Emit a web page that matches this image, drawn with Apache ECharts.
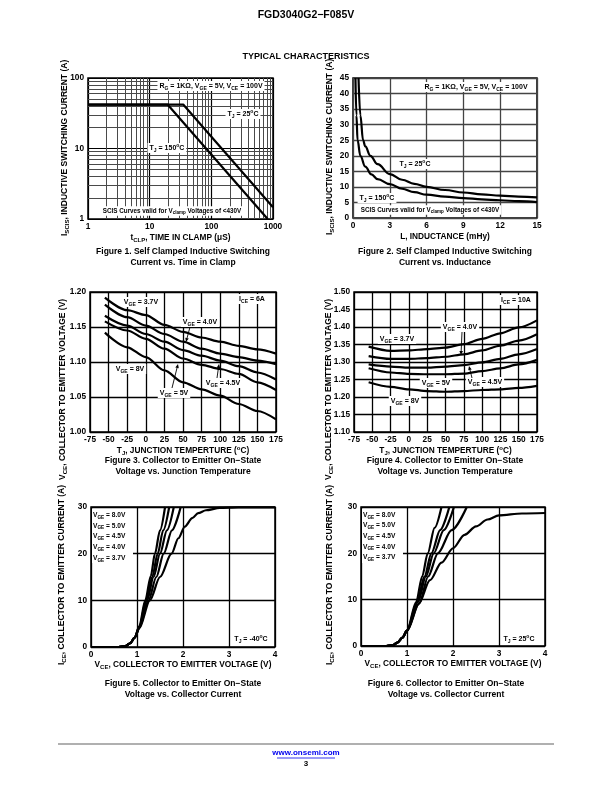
<!DOCTYPE html>
<html><head><meta charset="utf-8">
<script src="https://cdn.jsdelivr.net/npm/echarts@6/dist/echarts.min.js"></script>
<style>html,body{margin:0;padding:0;background:#fff}#c{width:612px;height:792px}</style>
</head><body><div id="c"></div>
<script>
// ---------- DATA ----------
// Figure 1: I_SCIS vs time in clamp (log-log)
const fig1TimeTj25 = [1, 35, 1000];
const fig1CurrTj25 = [42, 42, 1.47];
const fig1TimeTj150 = [1, 19.5, 820];
const fig1CurrTj150 = [42, 42, 1.0];
const fig1XTicks = [1, 10, 100, 1000];
const fig1YTicks = [1, 10, 100];

// Figure 2: I_SCIS vs inductance
const fig2LTj25 = [0.45, 0.6, 0.82, 1.0, 1.42, 2, 3, 4, 5, 6, 7.5, 9, 10.5, 12, 13.5, 15];
const fig2ITj25 = [45, 33, 25, 23, 20, 17.3, 14.1, 12.3, 11, 10, 9.0, 8.2, 7.6, 7.2, 6.9, 6.6];
const fig2LTj150 = [0.2, 0.28, 0.37, 0.6, 1, 1.5, 2, 3, 4, 5, 6, 7.5, 9, 10.5, 12, 13.5, 15];
const fig2ITj150 = [45, 33, 25, 20, 16.5, 14, 12.5, 10.9, 9.4, 8.3, 7.5, 6.9, 6.4, 6.0, 5.7, 5.4, 5.1];

// Figure 3: VCE vs TJ at ICE = 6A
const fig3Temp = [-55, -25, 0, 25, 50, 75, 100, 125, 150, 175];
const fig3Vge37 = [1.192, 1.174, 1.167, 1.153, 1.143, 1.135, 1.129, 1.123, 1.118, 1.112];
const fig3Vge40 = [1.182, 1.164, 1.152, 1.140, 1.129, 1.119, 1.112, 1.107, 1.102, 1.097];
const fig3Vge45 = [1.166, 1.152, 1.140, 1.129, 1.117, 1.109, 1.102, 1.094, 1.085, 1.075];
const fig3Vge50 = [1.158, 1.145, 1.133, 1.119, 1.105, 1.096, 1.090, 1.083, 1.071, 1.060];
const fig3Vge80 = [1.142, 1.121, 1.107, 1.088, 1.071, 1.061, 1.052, 1.040, 1.030, 1.018];

// Figure 4: VCE vs TJ at ICE = 10A
const fig4Temp = [-55, -25, 0, 25, 50, 75, 100, 125, 150, 175];
const fig4Vge37 = [1.344, 1.332, 1.333, 1.337, 1.341, 1.351, 1.366, 1.382, 1.399, 1.419];
const fig4Vge40 = [1.317, 1.309, 1.309, 1.311, 1.315, 1.322, 1.333, 1.347, 1.361, 1.379];
const fig4Vge45 = [1.293, 1.287, 1.284, 1.284, 1.287, 1.291, 1.299, 1.309, 1.322, 1.337];
const fig4Vge50 = [1.282, 1.270, 1.266, 1.265, 1.265, 1.267, 1.274, 1.282, 1.293, 1.306];
const fig4Vge80 = [1.242, 1.229, 1.222, 1.217, 1.215, 1.217, 1.220, 1.222, 1.226, 1.232];

// Figure 5: ICE vs VCE, TJ = -40C
const fig5V80 = [0, 0.6, 0.75, 0.85, 0.95, 1.05, 1.18, 1.3, 1.39, 1.5, 1.61];
const fig5I80 = [0, 0, 0.2, 0.8, 2, 4.5, 10, 15.2, 20, 25, 30];
const fig5V50 = [0, 0.6, 0.75, 0.85, 0.95, 1.05, 1.2, 1.33, 1.45, 1.57, 1.7];
const fig5I50 = [0, 0, 0.2, 0.8, 2, 4.3, 10, 15, 20, 25, 30];
const fig5V45 = [0, 0.6, 0.75, 0.85, 0.95, 1.05, 1.22, 1.36, 1.5, 1.65, 1.8];
const fig5I45 = [0, 0, 0.2, 0.8, 2, 4.2, 10, 15, 20, 25, 30];
const fig5V40 = [0, 0.6, 0.75, 0.85, 0.95, 1.05, 1.25, 1.42, 1.58, 1.76, 1.95];
const fig5I40 = [0, 0, 0.2, 0.8, 2, 4.1, 10, 15, 20, 25, 30];
const fig5V37 = [0, 0.6, 0.75, 0.85, 0.95, 1.05, 1.28, 1.5, 1.75, 1.9, 2.04, 2.2, 2.33, 2.5, 2.8, 3.2, 4.0];
const fig5I37 = [0, 0, 0.2, 0.8, 2, 4, 10, 15, 20, 23.3, 25.8, 27.6, 28.7, 29.3, 29.8, 29.9, 29.9];

// Figure 6: ICE vs VCE, TJ = 25C
const fig6V80 = [0, 0.55, 0.7, 0.8, 0.9, 1.0, 1.2, 1.33, 1.45, 1.6, 1.75];
const fig6I80 = [0, 0, 0.2, 0.8, 1.8, 3.3, 9.5, 15, 20, 25.5, 30];
const fig6V50 = [0, 0.55, 0.7, 0.8, 0.9, 1.0, 1.22, 1.38, 1.53, 1.72, 1.92];
const fig6I50 = [0, 0, 0.2, 0.8, 1.8, 3.3, 9.5, 15, 20, 25, 30];
const fig6V45 = [0, 0.55, 0.7, 0.8, 0.9, 1.0, 1.24, 1.41, 1.58, 1.8, 2.02];
const fig6I45 = [0, 0, 0.2, 0.8, 1.8, 3.3, 9.5, 15, 20, 25, 30];
const fig6V40 = [0, 0.55, 0.7, 0.8, 0.9, 1.0, 1.27, 1.46, 1.67, 1.97, 2.3];
const fig6I40 = [0, 0, 0.2, 0.8, 1.8, 3.3, 9.3, 15, 20, 25, 30];
const fig6V37 = [0, 0.55, 0.7, 0.8, 0.9, 1.0, 1.25, 1.5, 1.75, 2.0, 2.25, 2.5, 2.75, 3.0, 3.5, 4.0];
const fig6I37 = [0, 0, 0.2, 0.8, 1.8, 3.3, 9, 14.2, 18, 21.1, 24, 25.8, 27.3, 28.2, 28.6, 28.7];

const fig5LegendLabels = ['8.0V', '5.0V', '4.5V', '4.0V', '3.7V'];

// ---------- STYLE / BUILD ----------
const FONT = '"Liberation Sans", Arial, sans-serif';
function rich(base) {
  return {
    n: {fontSize: base, lineHeight: base + 3, fontWeight: 'bold', fontFamily: FONT, color: '#000', verticalAlign: 'middle'},
    s: {fontSize: base * 0.72, lineHeight: base * 0.6, fontWeight: 'bold', fontFamily: FONT, color: '#000', verticalAlign: 'bottom'},
    u: {fontSize: base * 0.72, lineHeight: base * 0.6, fontWeight: 'bold', fontFamily: FONT, color: '#000', verticalAlign: 'top'}
  };
}
const zip = (a, b) => a.map((v, i) => [v, b[i]]);

const grids = [
  {left: 88, top: 78, width: 185, height: 141},
  {left: 353, top: 78, width: 184, height: 140},
  {left: 90, top: 292, width: 186, height: 140},
  {left: 354, top: 292, width: 183, height: 140},
  {left: 91, top: 507, width: 184, height: 140},
  {left: 361, top: 507, width: 184, height: 139}
].map(g => Object.assign({show: true, borderColor: '#000', borderWidth: 1.5, backgroundColor: 'transparent'}, g));

function axisBase(gi, name, gap, lblFmt, gridColor, gridW) {
  return {
    gridIndex: gi, name: name, nameLocation: 'middle', nameGap: gap,
    nameTextStyle: {rich: rich(8.3), fontSize: 8.3, fontWeight: 'bold', fontFamily: FONT},
    axisLine: {show: false}, axisTick: {show: false},
    axisLabel: {fontSize: 8.3, fontWeight: 'bold', color: '#000', fontFamily: FONT, margin: 4, formatter: lblFmt},
    splitLine: {show: true, lineStyle: {color: gridColor || '#000', width: gridW || 1.3}}
  };
}
const intFmt = v => String(Math.round(v));
const f2 = v => v.toFixed(2);

const yNameScis = '{n|I}{s|SCIS}{n|, INDUCTIVE SWITCHING CURRENT (A)}';
const yNameVce = '{n|V}{s|CE}{n|, COLLECTOR TO EMITTER VOLTAGE (V)}';
const yNameIce = '{n|I}{s|CE}{n|, COLLECTOR TO EMITTER CURRENT (A)}';
const xNameTemp = '{n|T}{s|J}{n|, JUNCTION TEMPERTURE (}{u|o}{n|C)}';
const xNameVce = '{n|V}{s|CE}{n|, COLLECTOR TO EMITTER VOLTAGE (V)}';

const xAxes = [
  Object.assign(axisBase(0, '{n|t}{s|CLP}{n|, TIME IN CLAMP (μS)}', 13, intFmt, '#000', 1.2), {type: 'log', logBase: 10, min: 1, max: 1000}),
  Object.assign(axisBase(1, '{n|L, INDUCTANCE (mHy)}', 13, intFmt, '#444', 1.3), {type: 'value', min: 0, max: 15, interval: 3}),
  Object.assign(axisBase(2, xNameTemp, 12, intFmt), {type: 'value', min: -75, max: 175, interval: 25}),
  Object.assign(axisBase(3, xNameTemp, 12, intFmt), {type: 'value', min: -75, max: 175, interval: 25}),
  Object.assign(axisBase(4, xNameVce, 12, intFmt), {type: 'value', min: 0, max: 4, interval: 1}),
  Object.assign(axisBase(5, xNameVce, 12, intFmt), {type: 'value', min: 0, max: 4, interval: 1})
];
const yAxes = [
  Object.assign(axisBase(0, '', 0, intFmt, '#000', 1.2), {type: 'log', logBase: 10, min: 1, max: 100}),
  Object.assign(axisBase(1, '', 0, intFmt, '#444', 1.3), {type: 'value', min: 0, max: 45, interval: 5}),
  Object.assign(axisBase(2, '', 0, f2), {type: 'value', min: 1.0, max: 1.2, interval: 0.05}),
  Object.assign(axisBase(3, '', 0, f2), {type: 'value', min: 1.1, max: 1.5, interval: 0.05}),
  Object.assign(axisBase(4, '', 0, intFmt), {type: 'value', min: 0, max: 30, interval: 10}),
  Object.assign(axisBase(5, '', 0, intFmt), {type: 'value', min: 0, max: 30, interval: 10})
];

function line(gi, data, smooth) {
  return {type: 'line', xAxisIndex: gi, yAxisIndex: gi, data: data, symbol: 'none', smooth: smooth,
    smoothMonotone: 'x', clip: true, lineStyle: {color: '#000', width: 2.2}, animation: false, z: 5};
}

// minor log grid for Figure 1
const minorX = [], minorY = [];
[1, 10, 100].forEach(d => { for (let k = 2; k <= 9; k++) minorX.push(k * d); });
[1, 10].forEach(d => { for (let k = 2; k <= 9; k++) minorY.push(k * d); });

const series = [
  {type: 'line', xAxisIndex: 0, yAxisIndex: 0, data: [], animation: false,
    markLine: {silent: true, symbol: ['none', 'none'], label: {show: false}, animation: false,
      lineStyle: {color: '#4a4a4a', width: 1, type: 'solid'},
      data: minorX.map(v => ({xAxis: v})).concat(minorY.map(v => ({yAxis: v})))}},
  line(0, zip(fig1TimeTj25, fig1CurrTj25), false),
  line(0, zip(fig1TimeTj150, fig1CurrTj150), false),
  line(1, zip(fig2LTj25, fig2ITj25), 0.4),
  line(1, zip(fig2LTj150, fig2ITj150), 0.4),
  line(2, zip(fig3Temp, fig3Vge37), 0.3),
  line(2, zip(fig3Temp, fig3Vge40), 0.3),
  line(2, zip(fig3Temp, fig3Vge45), 0.3),
  line(2, zip(fig3Temp, fig3Vge50), 0.3),
  line(2, zip(fig3Temp, fig3Vge80), 0.3),
  line(3, zip(fig4Temp, fig4Vge37), 0.3),
  line(3, zip(fig4Temp, fig4Vge40), 0.3),
  line(3, zip(fig4Temp, fig4Vge45), 0.3),
  line(3, zip(fig4Temp, fig4Vge50), 0.3),
  line(3, zip(fig4Temp, fig4Vge80), 0.3),
  line(4, zip(fig5V80, fig5I80), 0.3),
  line(4, zip(fig5V50, fig5I50), 0.3),
  line(4, zip(fig5V45, fig5I45), 0.3),
  line(4, zip(fig5V40, fig5I40), 0.3),
  line(4, zip(fig5V37, fig5I37), 0.3),
  line(5, zip(fig6V80, fig6I80), 0.3),
  line(5, zip(fig6V50, fig6I50), 0.3),
  line(5, zip(fig6V45, fig6I45), 0.3),
  line(5, zip(fig6V40, fig6I40), 0.3),
  line(5, zip(fig6V37, fig6I37), 0.3)
];

// ---------- TEXT / GRAPHICS ----------
function txt(x, y, text, size, opts) {
  opts = opts || {};
  return {type: 'text', x: x, y: y, z: 100, silent: true,
    style: Object.assign({text: text, rich: rich(size), fontSize: size, fontWeight: 'bold', fontFamily: FONT,
      fill: '#000', align: 'center', verticalAlign: 'middle', lineHeight: size + 3}, opts)};
}
function vtxt(x, y, text, size) {
  const t = txt(x, y, text, size, {align: 'left'});
  t.rotation = Math.PI / 2;
  return t;
}
function ln(x1, y1, x2, y2, color, w) {
  return {type: 'line', z: 100, silent: true, shape: {x1: x1, y1: y1, x2: x2, y2: y2}, style: {stroke: color || '#000', lineWidth: w || 1}};
}
function arrow(x1, y1, x2, y2) {
  const a = Math.atan2(y2 - y1, x2 - x1), L = 4, W = 1.8;
  const bx = x2 - L * Math.cos(a), by = y2 - L * Math.sin(a);
  return [ln(x1, y1, bx, by, '#000', 0.9),
    {type: 'polygon', z: 100, silent: true, shape: {points: [[x2, y2],
      [bx + W * Math.sin(a), by - W * Math.cos(a)], [bx - W * Math.sin(a), by + W * Math.cos(a)]]}, style: {fill: '#000'}}];
}
const bg = {backgroundColor: '#fff', padding: [0, 2]};
const T = (v) => '{n|T}{s|J}{n| = ' + v + '}{u|o}{n|C}';
const VGE = (v) => '{n|V}{s|GE}{n| = ' + v + '}';
const cond = '{n|R}{s|G}{n| = 1KΩ, V}{s|GE}{n| = 5V, V}{s|CE}{n| = 100V}';
const scis = '{n|SCIS Curves valid for V}{s|clamp}{n| Voltages of <430V}';

const graphics = [
  txt(306, 15, '{n|FGD3040G2−F085V}', 10.5),
  txt(306, 57, '{n|TYPICAL CHARACTERISTICS}', 9),
  // y axis titles
  vtxt(65, 236, yNameScis, 8.5),
  vtxt(330, 235, yNameScis, 8.5),
  vtxt(63, 480, yNameVce, 8.5),
  vtxt(329, 480, yNameVce, 8.5),
  vtxt(62, 665, yNameIce, 8.5),
  vtxt(330, 665, yNameIce, 8.5),
  // Fig 1
  txt(211, 86, cond, 7, bg),
  txt(243, 114, T('25'), 7, bg),
  txt(167, 148, T('150'), 7, bg),
  txt(172, 211, scis, 6.3, bg),
  txt(183, 252, '{n|Figure 1. Self Clamped Inductive Switching}', 8.5),
  txt(183, 263, '{n|Current vs. Time in Clamp}', 8.5),
  // Fig 2
  txt(476, 87, cond, 7, bg),
  txt(415, 164, T('25'), 7, bg),
  txt(377, 198, T('150'), 7, bg),
  txt(430, 210, scis, 6.3, bg),
  txt(445, 252, '{n|Figure 2. Self Clamped Inductive Switching}', 8.5),
  txt(445, 263, '{n|Current vs. Inductance}', 8.5),
  // Fig 3
  txt(141, 302, VGE('3.7V'), 7, bg),
  txt(252, 299, '{n|I}{s|CE}{n| = 6A}', 7, bg),
  txt(200, 322, VGE('4.0V'), 7, bg),
  txt(130, 369, VGE('8V'), 7, bg),
  txt(174, 393, VGE('5V'), 7, bg),
  txt(223, 383, VGE('4.5V'), 7, bg),
  ...arrow(190, 327, 186, 342),
  ...arrow(172, 388, 178, 364),
  ...arrow(217, 378, 219, 364),
  txt(183, 461, '{n|Figure 3. Collector to Emitter On−State}', 8.5),
  txt(183, 472, '{n|Voltage vs. Junction Temperature}', 8.5),
  // Fig 4
  txt(516, 300, '{n|I}{s|CE}{n| = 10A}', 7, bg),
  txt(460, 327, VGE('4.0V'), 7, bg),
  txt(397, 339, VGE('3.7V'), 7, bg),
  txt(436, 383, VGE('5V'), 7, bg),
  txt(485, 382, VGE('4.5V'), 7, bg),
  txt(405, 401, VGE('8V'), 7, bg),
  ...arrow(462, 332, 461, 355),
  ...arrow(472, 378, 469, 366),
  txt(445, 461, '{n|Figure 4. Collector to Emitter On−State}', 8.5),
  txt(445, 472, '{n|Voltage vs. Junction Temperature}', 8.5),
  // Fig 5
  {type: 'rect', z: 99, silent: true, shape: {x: 92, y: 509, width: 41, height: 54}, style: {fill: '#fff'}},
  ...fig5LegendLabels.map((l, i) => txt(93, 515 + i * 10.8, VGE(l), 6.6, {align: 'left'})),
  txt(251, 639, T('-40'), 7, bg),
  txt(183, 684, '{n|Figure 5. Collector to Emitter On−State}', 8.5),
  txt(183, 695, '{n|Voltage vs. Collector Current}', 8.5),
  // Fig 6
  {type: 'rect', z: 99, silent: true, shape: {x: 362, y: 509, width: 41, height: 54}, style: {fill: '#fff'}},
  ...fig5LegendLabels.map((l, i) => txt(363, 515 + i * 10.6, VGE(l), 6.6, {align: 'left'})),
  txt(519, 639, T('25'), 7, bg),
  txt(446, 684, '{n|Figure 6. Collector to Emitter On−State}', 8.5),
  txt(446, 695, '{n|Voltage vs. Collector Current}', 8.5),
  // footer
  ln(58, 744, 554, 744, '#b0b0b0', 2),
  {type: 'text', x: 306, y: 753, z: 100, style: {text: 'www.onsemi.com', fontSize: 8, fontWeight: 'bold', fontFamily: FONT, fill: '#0000ee', align: 'center', verticalAlign: 'middle'}},
  ln(277, 758, 335, 758, '#0000ee', 0.8),
  txt(306, 764, '{n|3}', 8)
];

const chart = echarts.init(document.getElementById('c'), null, {renderer: 'canvas'});
chart.setOption({
  animation: false,
  backgroundColor: '#fff',
  grid: grids,
  xAxis: xAxes,
  yAxis: yAxes,
  series: series,
  graphic: graphics
});
</script></body></html>
